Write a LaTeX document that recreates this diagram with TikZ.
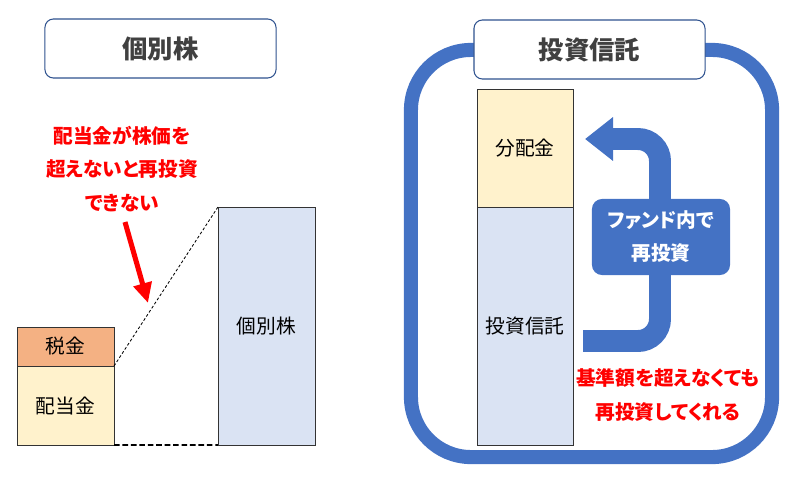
\documentclass[tikz,border=0pt]{standalone}
\usepackage{fontspec}
\setmainfont{Noto Sans CJK JP}[RawFeature={+palt}]
\usetikzlibrary{positioning, arrows.meta}
\definecolor{frameBlue}{HTML}{4472C4}
\definecolor{titleBorder}{HTML}{2F528F}
\definecolor{titleText}{HTML}{404040}
\definecolor{taxFill}{HTML}{F4B183}
\definecolor{divFill}{HTML}{FFF2CC}
\definecolor{stockFill}{HTML}{DAE3F3}
\definecolor{noteRed}{HTML}{FF0000}

\begin{document}
\begin{tikzpicture}[
  x=0.025cm, y=-0.025cm,
  font=\fontsize{14}{24}\selectfont,
  >=Latex
]
% -------------------- Styles --------------------
\tikzset{
  title/.style={
    draw=titleBorder, line width=0.75pt, rounded corners=6pt,
    fill=white, text=titleText, inner sep=0pt,
    font=\fontsize{18}{20}\selectfont\bfseries,
    minimum width=5.775cm, minimum height=1.475cm
  },
  bar/.style={
    draw=black!80, line width=0.6pt,
    inner sep=0pt, outer sep=0pt,
    minimum width=2.425cm
  },
  note/.style={
    text=noteRed, align=center,
    font=\fontsize{14}{24}\selectfont\bfseries
  },
  fundFrame/.style={
    draw=frameBlue, line width=10pt, rounded corners=1.5cm
  },
  redArrow/.style={-{Triangle[length=0.5cm, width=0.45cm]}, line width=3.6pt, draw=noteRed},
  uTurn/.style={-{Triangle[length=0.7cm, width=1.05cm]}, line width=15.6pt,
    draw=frameBlue, rounded corners=0.55cm}
}
\useasboundingbox (0,0) rectangle (800,480);

% -------------------- Left: individual stock --------------------
\node[title] (stockTitle) at (160.5,48.5) {個別株};

\node[note] (noReinvest) at (122,169) {配当金が株価を\\超えないと再投資\\できない};

\node[bar, fill=taxFill, minimum height=0.975cm] (tax) at (65.5,346.5) {税金};
\node[bar, fill=divFill, minimum height=1.975cm, below=0pt of tax] (div) {配当金};
\node[bar, fill=stockFill, minimum height=5.95cm] (stock) at (266.5,326) {個別株};

\draw[line width=0.6pt, dash pattern=on 2pt off 1.5pt] (div.north east) -- (stock.north west);
\draw[line width=1.2pt, dash pattern=on 4pt off 2pt] (div.south east) -- (stock.south west);

\coordinate (arrowStart) at (125,222);
\coordinate (arrowEnd) at (148,303);
\draw[redArrow] (arrowStart) -- (arrowEnd);

% -------------------- Right: investment trust --------------------
\node[fundFrame, minimum width=9.025cm, minimum height=10.175cm] (fund) at (591.5,253.5) {};
\node[title] (fundTitle) at (589.5,49.5) {投資信託};

\node[bar, fill=divFill, minimum width=2.4cm, minimum height=2.95cm] (payout) at (525,148) {分配金};
\node[bar, fill=stockFill, minimum width=2.4cm, minimum height=5.95cm, below=0pt of payout] (trust) {投資信託};

% U-turn back into the fund
\coordinate (turnStart) at (583,341);
\coordinate (turnTip) at (585,139);
\draw[uTurn] (turnStart) -| (660,139) -- (turnTip);

\node[fill=frameBlue, rounded corners=0.25cm, text=white, align=center,
      font=\fontsize{14}{23.5}\selectfont\bfseries,
      minimum width=3.45cm, minimum height=1.9cm] (reinvest) at (661,237) {ファンド内で\\再投資};

\node[note] (stillReinvest) at (668,395) {基準額を超えなくても\\再投資してくれる};

\end{tikzpicture}
\end{document}
